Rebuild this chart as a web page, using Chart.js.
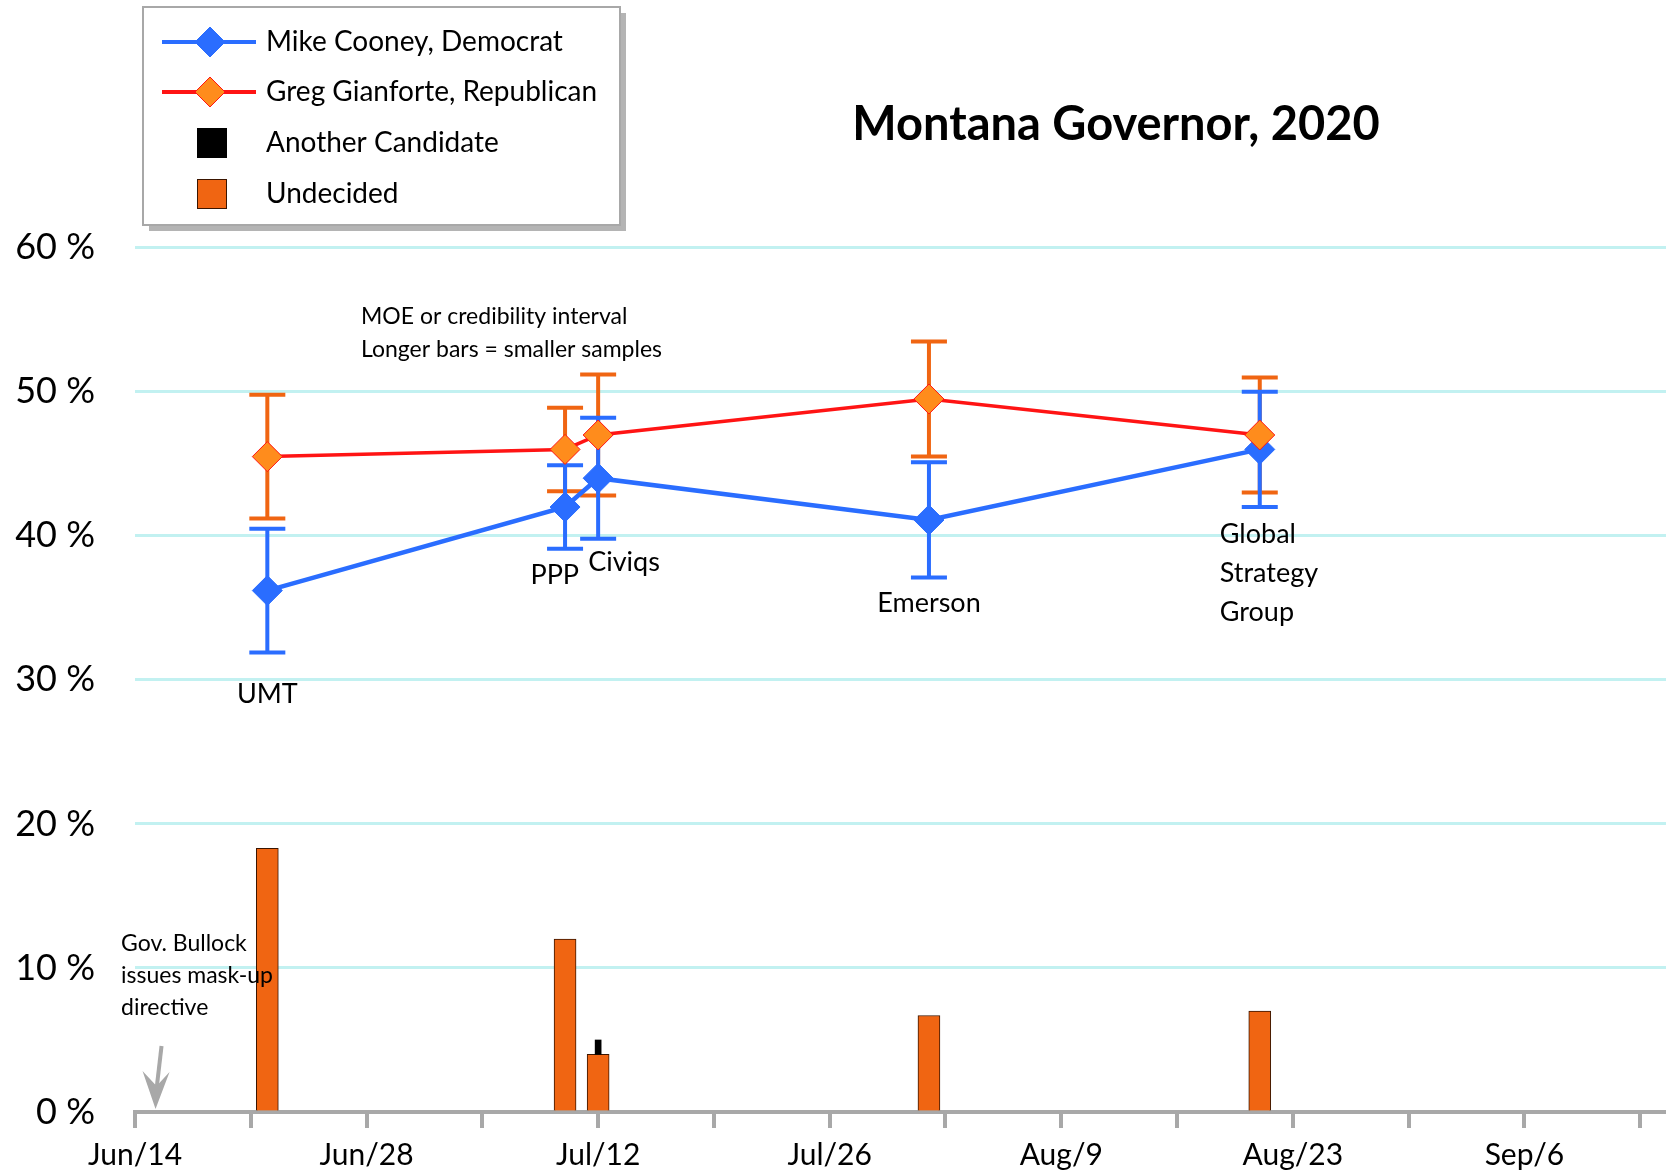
<!DOCTYPE html>
<html>
<head>
<meta charset="utf-8">
<title>Montana Governor, 2020</title>
<script src="https://cdn.jsdelivr.net/npm/chart.js@4.4.1/dist/chart.umd.min.js"></script>
<style>
    html, body { margin: 0; padding: 0; background: #fff; }
    #wrap { width: 1666px; height: 1173px; }
</style>
</head>
<body>
<div id="wrap"><canvas id="poll-chart" width="1666" height="1173"></canvas></div>
<script>
// x values are days counted from Jun 14, 2020
const pollsters = ['UMT', 'PPP', 'Civiqs', 'Emerson', 'Global Strategy Group'];
const pollDays = [8, 26, 28, 48, 68];
const cooney = [36.2, 42.0, 44.0, 41.1, 46.0];
const cooneyMoe = [4.3, 2.9, 4.2, 4.0, 4.0];
const gianforte = [45.5, 46.0, 47.0, 49.5, 47.0];
const gianforteMoe = [4.3, 2.9, 4.2, 4.0, 4.0];
const undecided = [18.3, 12.0, 4.0, 6.7, 7.0];
const another = [0, 0, 1.0, 0, 0];

const weekTicks = [0, 7, 14, 21, 28, 35, 42, 49, 56, 63, 70, 77, 84, 91];
const weekLabels = ['Jun/14', '', 'Jun/28', '', 'Jul/12', '', 'Jul/26', '', 'Aug/9', '', 'Aug/23', '', 'Sep/6', ''];
const yTicks = [0, 10, 20, 30, 40, 50, 60];
const maskDay = 1;

const BLUE = '#2a6dff';
const RED = '#ff1414';
const ORANGE = '#f06512';
const FONT = 'Lato, "Open Sans", sans-serif';

// where the pollster names sit, relative to the bottom of Cooney's error bar
const labelPlacement = [
    { align: 'center', dx: 0, dy: 42 },
    { align: 'right', dx: 14, dy: 26 },
    { align: 'left', dx: -10, dy: 24 },
    { align: 'center', dx: 0, dy: 26 },
    { align: 'left', dx: -40, dy: 27 },
];

const pts = (vals) => vals.map((v, i) => ({ x: pollDays[i], y: v }));

const noPadding = (axis) => {
    axis.paddingTop = 0;
    axis.paddingBottom = 0;
    axis.paddingLeft = 0;
    axis.paddingRight = 0;
};

const errorBars = {
    id: 'errorBars',
    beforeDatasetsDraw(chart) {
        const { ctx, scales: { x, y } } = chart;
        const draw = (vals, moe, color) => {
            ctx.save();
            ctx.strokeStyle = color;
            ctx.lineWidth = 4;
            vals.forEach((v, i) => {
                const px = x.getPixelForValue(pollDays[i]);
                const top = y.getPixelForValue(v + moe[i]);
                const bot = y.getPixelForValue(v - moe[i]);
                ctx.beginPath();
                ctx.moveTo(px, top);
                ctx.lineTo(px, bot);
                ctx.moveTo(px - 18, top);
                ctx.lineTo(px + 18, top);
                ctx.moveTo(px - 18, bot);
                ctx.lineTo(px + 18, bot);
                ctx.stroke();
            });
            ctx.restore();
        };
        draw(gianforte, gianforteMoe, ORANGE);
        draw(cooney, cooneyMoe, BLUE);
    },
};

const annotations = {
    id: 'annotations',
    afterDraw(chart) {
        const { ctx, scales: { x, y } } = chart;
        ctx.save();
        ctx.fillStyle = '#000';
        ctx.textBaseline = 'middle';

        // pollster names
        ctx.font = '27px ' + FONT;
        pollsters.forEach((name, i) => {
            const p = labelPlacement[i];
            const px = x.getPixelForValue(pollDays[i]) + p.dx;
            const py = y.getPixelForValue(cooney[i] - cooneyMoe[i]) + p.dy;
            ctx.textAlign = p.align;
            const lines = name === 'Global Strategy Group' ? ['Global', 'Strategy', 'Group'] : [name];
            lines.forEach((t, k) => ctx.fillText(t, px, py + k * 39));
        });

        // title
        ctx.textAlign = 'center';
        ctx.font = 'bold 47px ' + FONT;
        ctx.fillText('Montana Governor, 2020', 1116, 125);

        // notes
        ctx.textAlign = 'left';
        ctx.font = '23px ' + FONT;
        ctx.fillText('MOE or credibility interval', 361, 317);
        ctx.fillText('Longer bars = smaller samples', 361, 350);
        ctx.fillText('Gov. Bullock', 121, 944);
        ctx.fillText('issues mask-up', 121, 976);
        ctx.fillText('directive', 121, 1008);

        // arrow to the mask directive date
        const ax = x.getPixelForValue(maskDay) + 4;
        const ay = y.getPixelForValue(0) - 3;
        ctx.strokeStyle = '#a8a8a8';
        ctx.fillStyle = '#a8a8a8';
        ctx.lineWidth = 4;
        ctx.beginPath();
        ctx.moveTo(ax + 6, 1046);
        ctx.lineTo(ax + 1, ay - 20);
        ctx.stroke();
        ctx.beginPath();
        ctx.moveTo(ax, ay);
        ctx.lineTo(ax - 13, ay - 38);
        ctx.lineTo(ax + 1, ay - 23);
        ctx.lineTo(ax + 14, ay - 37);
        ctx.closePath();
        ctx.fill();

        // legend box
        const L = 143, T = 7, W = 477, H = 218;
        ctx.fillStyle = '#b4b4b4';
        ctx.fillRect(L + 6, T + 6, W, H);
        ctx.fillStyle = '#fff';
        ctx.fillRect(L, T, W, H);
        ctx.strokeStyle = '#a8a8a8';
        ctx.lineWidth = 2;
        ctx.strokeRect(L, T, W, H);

        const rows = [42, 92, 143, 194];
        const drawDiamond = (cx, cy, fill, stroke) => {
            ctx.beginPath();
            ctx.moveTo(cx, cy - 15);
            ctx.lineTo(cx + 15, cy);
            ctx.lineTo(cx, cy + 15);
            ctx.lineTo(cx - 15, cy);
            ctx.closePath();
            ctx.fillStyle = fill;
            ctx.fill();
            ctx.strokeStyle = stroke;
            ctx.lineWidth = 1;
            ctx.stroke();
        };
        ctx.lineWidth = 4;
        ctx.strokeStyle = BLUE;
        ctx.beginPath(); ctx.moveTo(162, rows[0]); ctx.lineTo(256, rows[0]); ctx.stroke();
        drawDiamond(210, rows[0], BLUE, BLUE);
        ctx.lineWidth = 4;
        ctx.strokeStyle = RED;
        ctx.beginPath(); ctx.moveTo(162, rows[1]); ctx.lineTo(256, rows[1]); ctx.stroke();
        drawDiamond(210, rows[1], '#ff8c1c', RED);
        ctx.fillStyle = '#000';
        ctx.fillRect(197, rows[2] - 15, 30, 30);
        ctx.fillStyle = ORANGE;
        ctx.fillRect(197, rows[3] - 15, 30, 30);
        ctx.strokeStyle = '#3a1500';
        ctx.lineWidth = 1;
        ctx.strokeRect(197.5, rows[3] - 14.5, 29, 29);

        ctx.fillStyle = '#000';
        ctx.font = '28px ' + FONT;
        ctx.textAlign = 'left';
        ['Mike Cooney, Democrat', 'Greg Gianforte, Republican', 'Another Candidate', 'Undecided']
            .forEach((t, k) => ctx.fillText(t, 266, rows[k]));
        ctx.restore();
    },
};

new Chart(document.getElementById('poll-chart'), {
    type: 'bar',
    data: {
        datasets: [
            {
                type: 'line',
                label: 'Greg Gianforte, Republican',
                data: pts(gianforte),
                borderColor: RED,
                borderWidth: 3.5,
                pointStyle: 'rectRot',
                pointRadius: 15,
                pointBackgroundColor: '#ff8c1c',
                pointBorderColor: RED,
                pointBorderWidth: 1,
                order: 1,
            },
            {
                type: 'line',
                label: 'Mike Cooney, Democrat',
                data: pts(cooney),
                borderColor: BLUE,
                borderWidth: 4.5,
                pointStyle: 'rectRot',
                pointRadius: 15,
                pointBackgroundColor: BLUE,
                pointBorderColor: BLUE,
                pointBorderWidth: 1,
                order: 2,
            },
            {
                label: 'Another Candidate',
                data: another.map((v, i) => ({ x: pollDays[i], y: v ? [undecided[i], undecided[i] + v] : null })),
                backgroundColor: '#000',
                barThickness: 6,
                grouped: false,
                order: 3,
            },
            {
                label: 'Undecided',
                data: pts(undecided),
                backgroundColor: ORANGE,
                borderColor: '#3a1500',
                borderWidth: 1,
                borderSkipped: 'bottom',
                barThickness: 22,
                grouped: false,
                order: 4,
            },
        ],
    },
    options: {
        responsive: false,
        animation: false,
        devicePixelRatio: 1,
        layout: { padding: 0, autoPadding: false },
        plugins: {
            legend: { display: false },
            tooltip: { enabled: false },
        },
        scales: {
            x: {
                type: 'linear',
                offset: false,
                min: 0,
                max: 92.56,
                afterBuildTicks: (axis) => { axis.ticks = weekTicks.map((v) => ({ value: v })); },
                afterFit: (axis) => { axis.height = 61; noPadding(axis); },
                border: { color: '#a8a8a8', width: 4 },
                grid: { offset: false, drawOnChartArea: false, drawTicks: true, tickLength: 16, color: '#a8a8a8', lineWidth: 4 },
                ticks: {
                    autoSkip: false,
                    maxRotation: 0,
                    padding: 9,
                    color: '#000',
                    font: { family: FONT, size: 30 },
                    callback: (v) => weekLabels[weekTicks.indexOf(v)],
                },
            },
            y: {
                type: 'linear',
                min: 0,
                max: 77.2,
                afterBuildTicks: (axis) => { axis.ticks = yTicks.map((v) => ({ value: v })); },
                afterFit: (axis) => { axis.width = 135; noPadding(axis); },
                border: { display: false },
                grid: { color: '#c2f1f1', lineWidth: 3, drawTicks: false },
                ticks: {
                    padding: 40,
                    color: '#000',
                    font: { family: FONT, size: 36 },
                    callback: (v) => v + ' %',
                },
            },
        },
    },
    plugins: [errorBars, annotations],
});
</script>
</body>
</html>
